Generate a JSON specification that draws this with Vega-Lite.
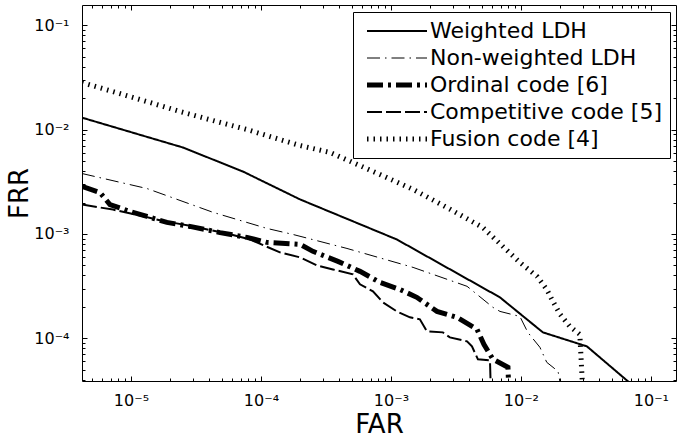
{
  "$schema": "https://vega.github.io/schema/vega-lite/v6.json",
  "width": 594,
  "height": 376,
  "autosize": {"type": "none"},
  "padding": {"left": 82, "top": 5, "right": 2, "bottom": 56},
  "background": "white",
  "config": {
    "view": {"stroke": null},
    "axis": {"grid": false, "domainColor": "black", "tickColor": "black", "labelColor": "black", "titleColor": "black", "labelFont": "DejaVu Sans", "titleFont": "DejaVu Sans", "titleFontWeight": "normal", "domainWidth": 1, "tickWidth": 1}
  },
  "datasets": {
    "curves": [
      {"s": "Weighted LDH", "far": 4.2e-6, "frr": 1.30e-2},
      {"s": "Weighted LDH", "far": 2.51e-5, "frr": 6.73e-3},
      {"s": "Weighted LDH", "far": 7.27e-5, "frr": 3.96e-3},
      {"s": "Weighted LDH", "far": 2.0e-4, "frr": 2.14e-3},
      {"s": "Weighted LDH", "far": 1.11e-3, "frr": 8.85e-4},
      {"s": "Weighted LDH", "far": 6.89e-3, "frr": 2.47e-4},
      {"s": "Weighted LDH", "far": 1.476e-2, "frr": 1.14e-4},
      {"s": "Weighted LDH", "far": 3.22e-2, "frr": 8.37e-5},
      {"s": "Weighted LDH", "far": 6.78e-2, "frr": 3.8e-5},
      {"s": "Weighted LDH", "far": 8.2e-2, "frr": 3.1e-5},
      {"s": "Non-weighted LDH", "far": 4.2e-6, "frr": 3.79e-3},
      {"s": "Non-weighted LDH", "far": 1.33e-5, "frr": 2.72e-3},
      {"s": "Non-weighted LDH", "far": 4.28e-5, "frr": 1.61e-3},
      {"s": "Non-weighted LDH", "far": 1.11e-4, "frr": 1.13e-3},
      {"s": "Non-weighted LDH", "far": 1.76e-4, "frr": 9.89e-4},
      {"s": "Non-weighted LDH", "far": 4.59e-4, "frr": 7.26e-4},
      {"s": "Non-weighted LDH", "far": 1.48e-3, "frr": 4.78e-4},
      {"s": "Non-weighted LDH", "far": 3.85e-3, "frr": 3.15e-4},
      {"s": "Non-weighted LDH", "far": 6.09e-3, "frr": 1.98e-4},
      {"s": "Non-weighted LDH", "far": 6.9e-3, "frr": 1.81e-4},
      {"s": "Non-weighted LDH", "far": 9.82e-3, "frr": 1.62e-4},
      {"s": "Non-weighted LDH", "far": 1.13e-2, "frr": 1.14e-4},
      {"s": "Non-weighted LDH", "far": 1.40e-2, "frr": 8.2e-5},
      {"s": "Non-weighted LDH", "far": 1.58e-2, "frr": 5.89e-5},
      {"s": "Non-weighted LDH", "far": 1.93e-2, "frr": 4.83e-5},
      {"s": "Non-weighted LDH", "far": 2.0e-2, "frr": 3.8e-5},
      {"s": "Non-weighted LDH", "far": 2.02e-2, "frr": 2.9e-5},
      {"s": "Ordinal code [6]", "far": 4.2e-6, "frr": 2.85e-3},
      {"s": "Ordinal code [6]", "far": 5.78e-6, "frr": 2.49e-3},
      {"s": "Ordinal code [6]", "far": 6.89e-6, "frr": 1.91e-3},
      {"s": "Ordinal code [6]", "far": 9.82e-6, "frr": 1.64e-3},
      {"s": "Ordinal code [6]", "far": 1.33e-5, "frr": 1.47e-3},
      {"s": "Ordinal code [6]", "far": 1.89e-5, "frr": 1.29e-3},
      {"s": "Ordinal code [6]", "far": 2.84e-5, "frr": 1.18e-3},
      {"s": "Ordinal code [6]", "far": 4.84e-5, "frr": 1.03e-3},
      {"s": "Ordinal code [6]", "far": 7.8e-5, "frr": 9.26e-4},
      {"s": "Ordinal code [6]", "far": 1.11e-4, "frr": 8.3e-4},
      {"s": "Ordinal code [6]", "far": 2.0e-4, "frr": 7.94e-4},
      {"s": "Ordinal code [6]", "far": 2.51e-4, "frr": 6.81e-4},
      {"s": "Ordinal code [6]", "far": 3.91e-4, "frr": 5.46e-4},
      {"s": "Ordinal code [6]", "far": 5.78e-4, "frr": 4.38e-4},
      {"s": "Ordinal code [6]", "far": 8.23e-4, "frr": 3.43e-4},
      {"s": "Ordinal code [6]", "far": 1.17e-3, "frr": 2.94e-4},
      {"s": "Ordinal code [6]", "far": 1.58e-3, "frr": 2.47e-4},
      {"s": "Ordinal code [6]", "far": 2.26e-3, "frr": 1.81e-4},
      {"s": "Ordinal code [6]", "far": 3.22e-3, "frr": 1.59e-4},
      {"s": "Ordinal code [6]", "far": 4.59e-3, "frr": 1.22e-4},
      {"s": "Ordinal code [6]", "far": 5.19e-3, "frr": 8.77e-5},
      {"s": "Ordinal code [6]", "far": 6.09e-3, "frr": 6.3e-5},
      {"s": "Ordinal code [6]", "far": 7.95e-3, "frr": 5.27e-5},
      {"s": "Ordinal code [6]", "far": 8.09e-3, "frr": 2.91e-5},
      {"s": "Competitive code [5]", "far": 4.2e-6, "frr": 1.91e-3},
      {"s": "Competitive code [5]", "far": 7.27e-6, "frr": 1.71e-3},
      {"s": "Competitive code [5]", "far": 1.07e-5, "frr": 1.54e-3},
      {"s": "Competitive code [5]", "far": 1.67e-5, "frr": 1.35e-3},
      {"s": "Competitive code [5]", "far": 3.0e-5, "frr": 1.18e-3},
      {"s": "Competitive code [5]", "far": 5.47e-5, "frr": 1.01e-3},
      {"s": "Competitive code [5]", "far": 8.23e-5, "frr": 8.86e-4},
      {"s": "Competitive code [5]", "far": 1.40e-4, "frr": 6.65e-4},
      {"s": "Competitive code [5]", "far": 2.0e-4, "frr": 5.96e-4},
      {"s": "Competitive code [5]", "far": 2.70e-4, "frr": 5.0e-4},
      {"s": "Competitive code [5]", "far": 3.58e-4, "frr": 4.57e-4},
      {"s": "Competitive code [5]", "far": 5.1e-4, "frr": 4.1e-4},
      {"s": "Competitive code [5]", "far": 5.78e-4, "frr": 3.29e-4},
      {"s": "Competitive code [5]", "far": 7.27e-4, "frr": 2.82e-4},
      {"s": "Competitive code [5]", "far": 8.68e-4, "frr": 2.21e-4},
      {"s": "Competitive code [5]", "far": 1.11e-3, "frr": 1.81e-4},
      {"s": "Competitive code [5]", "far": 1.40e-3, "frr": 1.59e-4},
      {"s": "Competitive code [5]", "far": 1.67e-3, "frr": 1.52e-4},
      {"s": "Competitive code [5]", "far": 1.89e-3, "frr": 1.17e-4},
      {"s": "Competitive code [5]", "far": 2.51e-3, "frr": 1.14e-4},
      {"s": "Competitive code [5]", "far": 2.84e-3, "frr": 1.02e-4},
      {"s": "Competitive code [5]", "far": 3.85e-3, "frr": 9.36e-5},
      {"s": "Competitive code [5]", "far": 4.2e-3, "frr": 8.37e-5},
      {"s": "Competitive code [5]", "far": 4.67e-3, "frr": 6.29e-5},
      {"s": "Competitive code [5]", "far": 5.78e-3, "frr": 6.15e-5},
      {"s": "Competitive code [5]", "far": 5.88e-3, "frr": 2.91e-5},
      {"s": "Fusion code [4]", "far": 4.2e-6, "frr": 2.82e-2},
      {"s": "Fusion code [4]", "far": 7.27e-6, "frr": 2.31e-2},
      {"s": "Fusion code [4]", "far": 1.33e-5, "frr": 1.85e-2},
      {"s": "Fusion code [4]", "far": 2.38e-5, "frr": 1.49e-2},
      {"s": "Fusion code [4]", "far": 4.28e-5, "frr": 1.22e-2},
      {"s": "Fusion code [4]", "far": 7.8e-5, "frr": 1.0e-2},
      {"s": "Fusion code [4]", "far": 1.40e-4, "frr": 8.02e-3},
      {"s": "Fusion code [4]", "far": 2.0e-4, "frr": 7.03e-3},
      {"s": "Fusion code [4]", "far": 3.40e-4, "frr": 6.03e-3},
      {"s": "Fusion code [4]", "far": 5.1e-4, "frr": 4.83e-3},
      {"s": "Fusion code [4]", "far": 8.23e-4, "frr": 3.71e-3},
      {"s": "Fusion code [4]", "far": 1.48e-3, "frr": 2.67e-3},
      {"s": "Fusion code [4]", "far": 2.7e-3, "frr": 1.79e-3},
      {"s": "Fusion code [4]", "far": 5.10e-3, "frr": 1.15e-3},
      {"s": "Fusion code [4]", "far": 7.27e-3, "frr": 7.58e-4},
      {"s": "Fusion code [4]", "far": 9.82e-3, "frr": 5.33e-4},
      {"s": "Fusion code [4]", "far": 1.33e-2, "frr": 3.92e-4},
      {"s": "Fusion code [4]", "far": 1.58e-2, "frr": 2.94e-4},
      {"s": "Fusion code [4]", "far": 1.73e-2, "frr": 2.36e-4},
      {"s": "Fusion code [4]", "far": 2.0e-2, "frr": 1.70e-4},
      {"s": "Fusion code [4]", "far": 2.38e-2, "frr": 1.30e-4},
      {"s": "Fusion code [4]", "far": 2.84e-2, "frr": 1.09e-4},
      {"s": "Fusion code [4]", "far": 3.0e-2, "frr": 2.91e-5}
    ]
  },
  "data": {"name": "curves"},
  "layer": [
    {
      "mark": {"type": "line", "clip": true, "color": "black"},
      "encoding": {
        "x": {
          "field": "far", "type": "quantitative",
          "scale": {"type": "log", "domain": [4.2e-6, 0.156], "nice": false},
          "axis": {"orient": "bottom", "values": [1e-5, 1e-4, 1e-3, 1e-2, 1e-1], "labelExpr": "datum.value < 5e-5 ? '10\u207b\u2075' : datum.value < 5e-4 ? '10\u207b\u2074' : datum.value < 5e-3 ? '10\u207b\u00b3' : datum.value < 5e-2 ? '10\u207b\u00b2' : '10\u207b\u00b9'", "ticks": false, "domain": true, "labelPadding": 24, "labelBaseline": "alphabetic", "labelAlign": "center", "labelFontSize": 16, "labelFlush": false, "labelOverlap": false, "title": "FAR", "titleFontSize": 26, "titleBaseline": "alphabetic", "titleY": 51}
        },
        "y": {
          "field": "frr", "type": "quantitative",
          "scale": {"type": "log", "domain": [3.9e-5, 0.156], "nice": false},
          "axis": {"orient": "left", "values": [1e-4, 1e-3, 1e-2, 1e-1], "labelExpr": "datum.value < 5e-4 ? '10\u207b\u2074' : datum.value < 5e-3 ? '10\u207b\u00b3' : datum.value < 5e-2 ? '10\u207b\u00b2' : '10\u207b\u00b9'", "ticks": false, "domain": true, "labelPadding": 13, "labelBaseline": "middle", "labelAlign": "right", "labelFontSize": 16, "labelFlush": false, "labelOverlap": false, "title": "FRR", "titleFontSize": 26, "titleAngle": 270, "titleAlign": "center", "titleBaseline": "alphabetic", "titleX": -55, "titleY": 188}
        },
        "strokeDash": {
          "field": "s", "type": "nominal",
          "scale": {"domain": ["Weighted LDH", "Non-weighted LDH", "Ordinal code [6]", "Competitive code [5]", "Fusion code [4]"], "range": [[1, 0], [13, 5, 1.5, 5], [16, 5, 3, 5], [15, 4], [1.5, 5]]},
          "legend": {"title": null, "orient": "none", "legendX": 271, "legendY": 7, "direction": "vertical", "strokeColor": "black", "fillColor": "white", "padding": 8, "symbolType": "M-1,0H11", "symbolSize": 100, "symbolStrokeColor": "black", "labelFont": "DejaVu Sans", "labelFontSize": 22, "labelColor": "black", "labelOffset": 47, "rowPadding": 5, "labelLimit": 400}
        },
        "strokeWidth": {
          "field": "s", "type": "nominal",
          "scale": {"type": "ordinal", "domain": ["Weighted LDH", "Non-weighted LDH", "Ordinal code [6]", "Competitive code [5]", "Fusion code [4]"], "range": [2, 1, 5, 2, 5]},
          "legend": {"title": null, "orient": "none", "legendX": 271, "legendY": 7, "direction": "vertical", "strokeColor": "black", "fillColor": "white", "padding": 8, "symbolType": "M-1,0H11", "symbolSize": 100, "symbolStrokeColor": "black", "labelFont": "DejaVu Sans", "labelFontSize": 22, "labelColor": "black", "labelOffset": 47, "rowPadding": 5, "labelLimit": 400}
        }
      }
    },
    {
      "mark": {"type": "point", "opacity": 0},
      "encoding": {
        "x": {"field": "far", "type": "quantitative", "scale": {"type": "log", "domain": [4.2e-6, 0.156], "nice": false},
          "axis": {"orient": "bottom", "values": [1e-5, 1e-4, 1e-3, 1e-2, 1e-1], "labels": false, "domain": false, "ticks": true, "tickSize": -5, "title": null}},
        "y": {"field": "frr", "type": "quantitative", "scale": {"type": "log", "domain": [3.9e-5, 0.156], "nice": false},
          "axis": {"orient": "left", "values": [1e-4, 1e-3, 1e-2, 1e-1], "labels": false, "domain": false, "ticks": true, "tickSize": -5, "title": null}}
      }
    },
    {
      "mark": {"type": "point", "opacity": 0},
      "encoding": {
        "x": {"field": "far", "type": "quantitative", "scale": {"type": "log", "domain": [4.2e-6, 0.156], "nice": false},
          "axis": {"orient": "bottom", "values": [5e-6, 6e-6, 7e-6, 8e-6, 9e-6, 2e-5, 3e-5, 4e-5, 5e-5, 6e-5, 7e-5, 8e-5, 9e-5, 2e-4, 3e-4, 4e-4, 5e-4, 6e-4, 7e-4, 8e-4, 9e-4, 2e-3, 3e-3, 4e-3, 5e-3, 6e-3, 7e-3, 8e-3, 9e-3, 2e-2, 3e-2, 4e-2, 5e-2, 6e-2, 7e-2, 8e-2, 9e-2], "labels": false, "domain": false, "ticks": true, "tickSize": -3, "title": null}},
        "y": {"field": "frr", "type": "quantitative", "scale": {"type": "log", "domain": [3.9e-5, 0.156], "nice": false},
          "axis": {"orient": "left", "values": [4e-5, 5e-5, 6e-5, 7e-5, 8e-5, 9e-5, 2e-4, 3e-4, 4e-4, 5e-4, 6e-4, 7e-4, 8e-4, 9e-4, 2e-3, 3e-3, 4e-3, 5e-3, 6e-3, 7e-3, 8e-3, 9e-3, 2e-2, 3e-2, 4e-2, 5e-2, 6e-2, 7e-2, 8e-2, 9e-2], "labels": false, "domain": false, "ticks": true, "tickSize": -3, "title": null}}
      }
    },
    {
      "mark": {"type": "point", "opacity": 0},
      "encoding": {
        "x": {"field": "far", "type": "quantitative", "scale": {"type": "log", "domain": [4.2e-6, 0.156], "nice": false},
          "axis": {"orient": "top", "values": [1e-5, 1e-4, 1e-3, 1e-2, 1e-1], "labels": false, "domain": true, "ticks": true, "tickSize": -5, "title": null}},
        "y": {"field": "frr", "type": "quantitative", "scale": {"type": "log", "domain": [3.9e-5, 0.156], "nice": false},
          "axis": {"orient": "right", "values": [1e-4, 1e-3, 1e-2, 1e-1], "labels": false, "domain": true, "ticks": true, "tickSize": -5, "title": null}}
      }
    },
    {
      "mark": {"type": "point", "opacity": 0},
      "encoding": {
        "x": {"field": "far", "type": "quantitative", "scale": {"type": "log", "domain": [4.2e-6, 0.156], "nice": false},
          "axis": {"orient": "top", "values": [5e-6, 6e-6, 7e-6, 8e-6, 9e-6, 2e-5, 3e-5, 4e-5, 5e-5, 6e-5, 7e-5, 8e-5, 9e-5, 2e-4, 3e-4, 4e-4, 5e-4, 6e-4, 7e-4, 8e-4, 9e-4, 2e-3, 3e-3, 4e-3, 5e-3, 6e-3, 7e-3, 8e-3, 9e-3, 2e-2, 3e-2, 4e-2, 5e-2, 6e-2, 7e-2, 8e-2, 9e-2], "labels": false, "domain": false, "ticks": true, "tickSize": -3, "title": null}},
        "y": {"field": "frr", "type": "quantitative", "scale": {"type": "log", "domain": [3.9e-5, 0.156], "nice": false},
          "axis": {"orient": "right", "values": [4e-5, 5e-5, 6e-5, 7e-5, 8e-5, 9e-5, 2e-4, 3e-4, 4e-4, 5e-4, 6e-4, 7e-4, 8e-4, 9e-4, 2e-3, 3e-3, 4e-3, 5e-3, 6e-3, 7e-3, 8e-3, 9e-3, 2e-2, 3e-2, 4e-2, 5e-2, 6e-2, 7e-2, 8e-2, 9e-2], "labels": false, "domain": false, "ticks": true, "tickSize": -3, "title": null}}
      }
    }
  ],
  "resolve": {"axis": {"x": "independent", "y": "independent"}}
}
